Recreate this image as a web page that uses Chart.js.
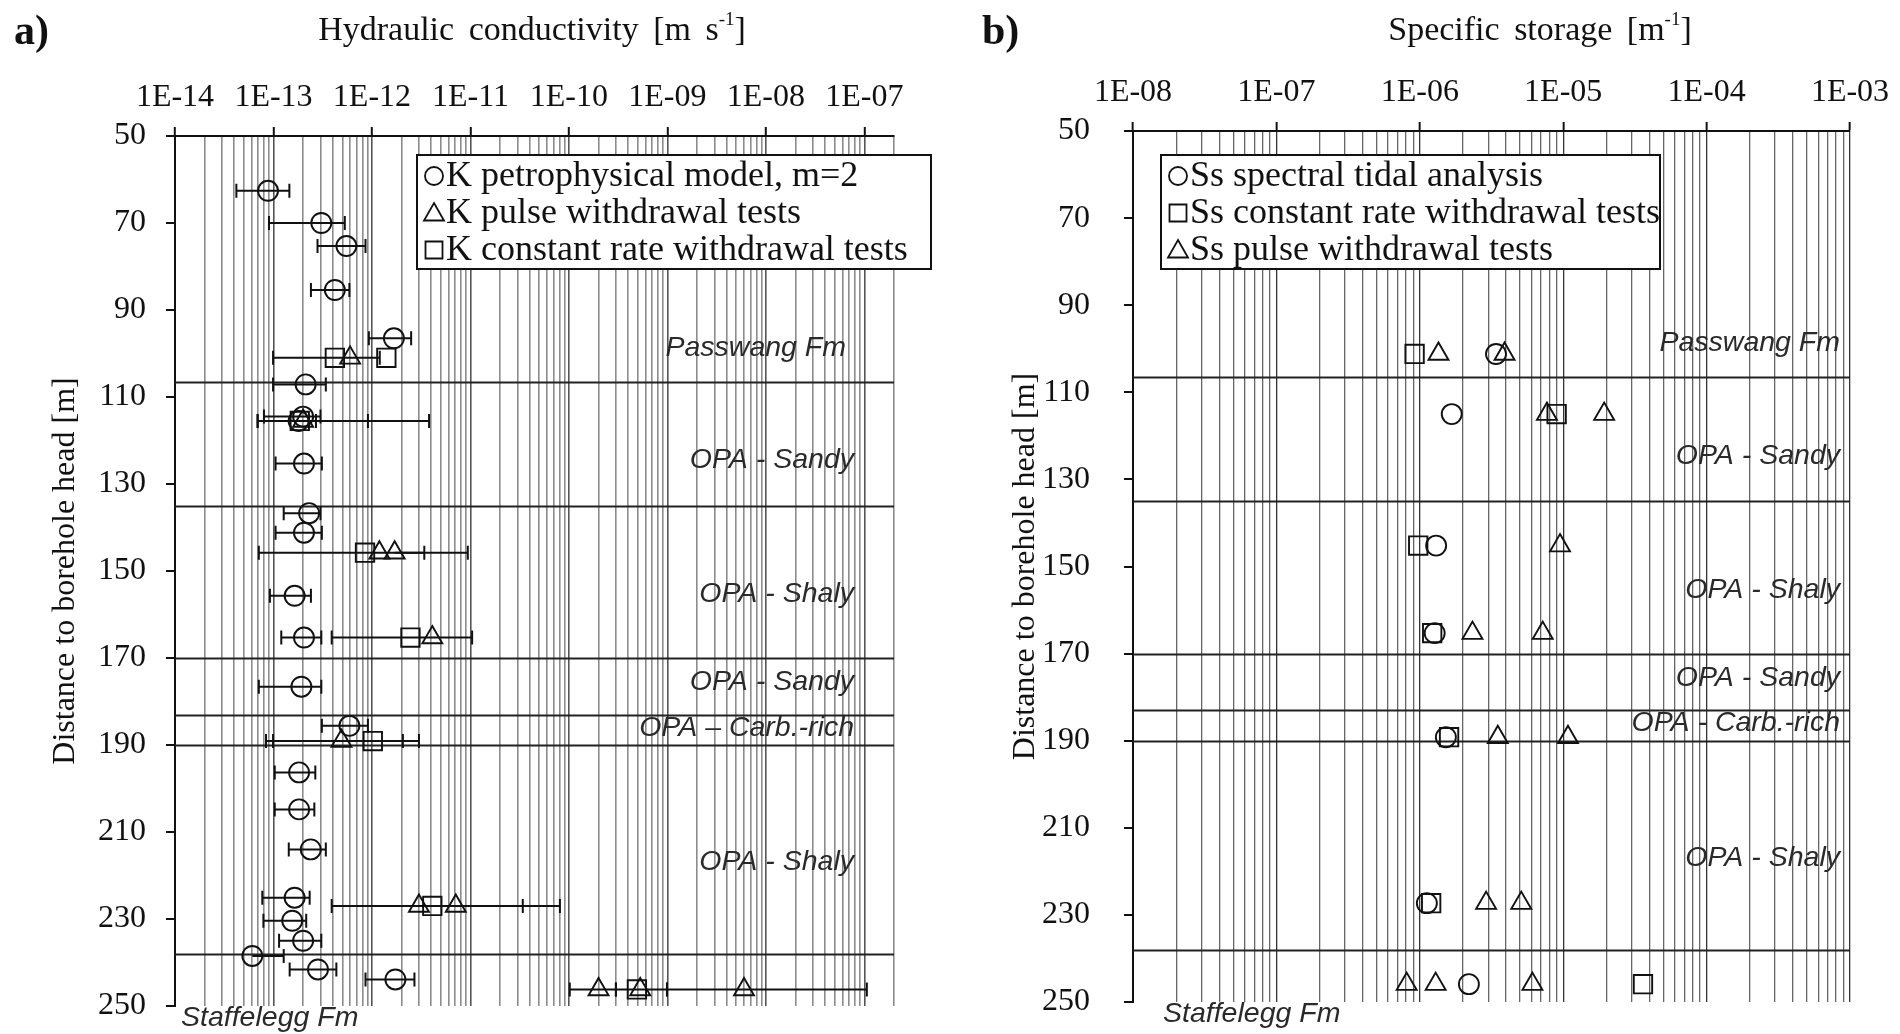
<!DOCTYPE html>
<html>
<head>
<meta charset="utf-8">
<script src="https://cdn.jsdelivr.net/npm/chart.js@4.4.1/dist/chart.umd.min.js"></script>
<style>
  body { margin: 0; background: #fff; width: 1900px; height: 1034px; overflow: hidden; position: relative; }
  .panel { position: absolute; top: 0; width: 950px; height: 1034px; }
  #panelA { left: 0; }
  #panelB { left: 950px; }
  canvas { display: block; }
  .txt { position: absolute; font-family: "Liberation Serif", serif; color: #111; white-space: nowrap; }
  .letter { font-weight: bold; font-size: 42px; top: 6px; }
  .title { font-size: 34px; top: 10px; transform: translateX(-50%); word-spacing: 6px; }
  sup { font-size: 19px; vertical-align: 15px; line-height: 0; }
</style>
</head>
<body>
<div class="panel" id="panelA"><canvas id="chartA" width="950" height="1034"></canvas></div>
<div class="panel" id="panelB"><canvas id="chartB" width="950" height="1034"></canvas></div>
<div class="txt letter" style="left:14px">a)</div>
<div class="txt title" style="left:532px">Hydraulic conductivity [m s<sup>-1</sup>]</div>
<div class="txt letter" style="left:982px">b)</div>
<div class="txt title" style="left:1540px">Specific storage [m<sup>-1</sup>]</div>
<script>
// ---------- axes ----------
const depthTicks = [50, 70, 90, 110, 130, 150, 170, 190, 210, 230, 250];
const kDecades = [1e-14, 1e-13, 1e-12, 1e-11, 1e-10, 1e-9, 1e-8, 1e-7];
const kDecadeLabels = ["1E-14", "1E-13", "1E-12", "1E-11", "1E-10", "1E-09", "1E-08", "1E-07"];
const ssDecades = [1e-8, 1e-7, 1e-6, 1e-5, 1e-4, 1e-3];
const ssDecadeLabels = ["1E-08", "1E-07", "1E-06", "1E-05", "1E-04", "1E-03"];

// ---------- formations ----------
const boundaryDepths = [106.5, 135, 170, 183, 190, 238];
const formationNames = ["Passwang Fm", "OPA - Sandy", "OPA - Shaly", "OPA - Sandy", "OPA \u2013 Carb.-rich", "OPA - Shaly"];
const formationNamesB = ["Passwang Fm", "OPA - Sandy", "OPA - Shaly", "OPA - Sandy", "OPA - Carb.-rich", "OPA - Shaly"];
const formationDepths = [98.7, 124.6, 155.3, 175.6, 186, 216.9];
const baseFormation = "Staffelegg Fm";

// ---------- a) hydraulic conductivity ----------
const kPetroDepth = [62.6, 70, 75.3, 85.4, 96.5, 107.1, 114.5, 115.5, 125.3, 136.7, 141.2, 155.7, 165.3, 176.6, 185.6, 196.3, 204.8, 214, 225.1, 230.4, 235, 238.5, 241.6, 243.9];
const kPetroValue = [8.8e-14, 3.06e-13, 5.5e-13, 4.2e-13, 1.67e-12, 2.12e-13, 2.0e-13, 1.8e-13, 2.04e-13, 2.3e-13, 2.04e-13, 1.64e-13, 2.04e-13, 1.92e-13, 5.9e-13, 1.82e-13, 1.82e-13, 2.39e-13, 1.64e-13, 1.55e-13, 2.0e-13, 6.1e-14, 2.83e-13, 1.73e-12];
const kPetroMin = [4.2e-14, 9.0e-14, 2.8e-13, 2.4e-13, 9.3e-13, 9.9e-14, 8.0e-14, 6.9e-14, 1.05e-13, 1.27e-13, 1.05e-13, 9.2e-14, 1.2e-13, 7.1e-14, 3.1e-13, 1.03e-13, 1.03e-13, 1.43e-13, 7.7e-14, 7.9e-14, 1.14e-13, 6.1e-14, 1.46e-13, 8.6e-13];
const kPetroMax = [1.45e-13, 5.3e-13, 8.6e-13, 5.9e-13, 2.5e-12, 3.4e-13, 3.0e-13, 2.7e-13, 3.1e-13, 3.0e-13, 3.1e-13, 2.4e-13, 3.06e-13, 3.06e-13, 9.1e-13, 2.66e-13, 2.6e-13, 3.4e-13, 2.33e-13, 2.15e-13, 3.06e-13, 1.27e-13, 4.35e-13, 2.7e-12];

const kPulseDepth = [101, 115.5, 145.8, 145.8, 165.3, 189.1, 227, 227, 246.2, 246.2, 246.2];
const kPulseValue = [6.0e-13, 2.0e-13, 1.19e-12, 1.7e-12, 4.1e-12, 4.9e-13, 3.0e-12, 7.1e-12, 2.0e-10, 5.3e-10, 6.0e-9];
const kPulseMin = [9.9e-14, 6.9e-14, 7.1e-14, 1.7e-12, 3.9e-13, 8.4e-14, 3.9e-13, 7.1e-12, 1.02e-10, 5.3e-10, 9.9e-10];
const kPulseMax = [1.2e-12, 3.8e-12, 3.4e-12, 9.4e-12, 1.04e-11, 3.0e-12, 3.4e-11, 8.1e-11, 3.0e-10, 5.3e-10, 1.06e-7];

const kConstDepth = [101, 101, 115.5, 145.8, 165.3, 189.1, 227, 246.2];
const kConstValue = [4.2e-13, 1.4e-12, 1.85e-13, 8.5e-13, 2.46e-12, 1.02e-12, 4.1e-12, 4.9e-10];
const kConstMin = [4.2e-13, 1.4e-12, 1.85e-13, 8.5e-13, 2.46e-12, 9.9e-14, 4.1e-12, 3.0e-10];
const kConstMax = [4.2e-13, 1.4e-12, 9.1e-13, 8.5e-13, 2.46e-12, 2.06e-12, 4.1e-12, 9.9e-10];

// ---------- b) specific storage ----------
const ssTidalDepth = [101.2, 115, 145.2, 165.3, 189.2, 227.3, 245.9];
const ssTidalValue = [3.4e-6, 1.67e-6, 1.3e-6, 1.27e-6, 1.52e-6, 1.12e-6, 2.2e-6];
const ssConstDepth = [101.2, 115, 145.2, 165.3, 189.2, 227.3, 245.9];
const ssConstValue = [9.2e-7, 9.0e-6, 9.75e-7, 1.22e-6, 1.6e-6, 1.2e-6, 3.6e-5];
const ssPulseDepth = [101.2, 101.2, 115, 115, 145.2, 165.3, 165.3, 189.2, 189.2, 227.3, 227.3, 245.9, 245.9, 245.9];
const ssPulseValue = [1.35e-6, 3.9e-6, 7.7e-6, 1.93e-5, 9.5e-6, 2.33e-6, 7.2e-6, 3.5e-6, 1.08e-5, 2.9e-6, 5.1e-6, 8.1e-7, 1.29e-6, 6.1e-6];

// ---------- helpers ----------
const SERIF = '"Liberation Serif", "Times New Roman", serif';
const SANS = '"Liberation Sans", Arial, sans-serif';

const toPoints = (depths, values, mins, maxs) => depths.map((d, i) => ({
  x: values[i], y: d,
  xMin: mins ? mins[i] : values[i],
  xMax: maxs ? maxs[i] : values[i]
}));

// gridlines at 1..9 x each decade, up to the axis max
const logGrid = (decades, max) => {
  const out = [];
  decades.forEach(d => {
    for (let m = 1; m <= 9; m++) {
      const v = Number((m * d).toPrecision(3));
      if (v <= max * 1.0001) out.push(v);
    }
  });
  if (!out.some(v => Math.abs(v - max) / max < 1e-6)) out.push(max);
  return out;
};
const isDecade = v => Math.abs(Math.log10(v) - Math.round(Math.log10(v))) < 1e-6;
const decadeLabel = (v, decades, labels) => {
  const i = decades.findIndex(d => Math.abs(Math.log10(d) - Math.log10(v)) < 1e-6);
  return i >= 0 ? labels[i] : "";
};

// ---------- plugins ----------
const errorBars = {
  id: "errorBars",
  beforeDatasetsDraw(chart) {
    const { ctx, scales: { x, y } } = chart;
    ctx.save();
    ctx.strokeStyle = "#111";
    ctx.lineWidth = 2;
    chart.data.datasets.forEach(ds => {
      ds.data.forEach(p => {
        if (p.xMin === p.xMax) return;
        const yp = y.getPixelForValue(p.y);
        const x0 = x.getPixelForValue(p.xMin);
        const x1 = x.getPixelForValue(p.xMax);
        ctx.beginPath();
        ctx.moveTo(x0, yp);
        ctx.lineTo(x1, yp);
        if (p.xMin < p.x) { ctx.moveTo(x0, yp - 7); ctx.lineTo(x0, yp + 7); }
        if (p.xMax > p.x) { ctx.moveTo(x1, yp - 7); ctx.lineTo(x1, yp + 7); }
        ctx.stroke();
      });
    });
    ctx.restore();
  }
};

const formations = {
  id: "formations",
  beforeDatasetsDraw(chart) {
    const { ctx, chartArea, scales: { y } } = chart;
    ctx.save();
    ctx.strokeStyle = "#222";
    ctx.lineWidth = 2;
    boundaryDepths.forEach(d => {
      const yp = Math.round(y.getPixelForValue(d)) + 0.5;
      ctx.beginPath();
      ctx.moveTo(chartArea.left, yp);
      ctx.lineTo(chartArea.right, yp);
      ctx.stroke();
    });
    ctx.restore();
  },
  afterDatasetsDraw(chart, args, opts) {
    const { ctx, chartArea, scales: { y } } = chart;
    ctx.save();
    ctx.fillStyle = "#2a2a2a";
    ctx.font = "italic 28.5px " + SANS;
    ctx.textAlign = "right";
    ctx.textBaseline = "middle";
    opts.names.forEach((n, i) => {
      const gap = i === 0 ? opts.rightGap + opts.firstExtra : opts.rightGap;
      ctx.fillText(n, chartArea.right - gap, y.getPixelForValue(formationDepths[i]));
    });
    ctx.textAlign = "left";
    ctx.fillText(baseFormation, chartArea.left + opts.baseGap, chartArea.bottom + 12);
    ctx.restore();
  }
};

const drawMarker = (ctx, style, x, y, r) => {
  ctx.beginPath();
  if (style === "circle") {
    ctx.arc(x, y, r * 0.9, 0, Math.PI * 2);
  } else if (style === "rect") {
    ctx.rect(x - r * 0.85, y - r * 0.85, r * 1.7, r * 1.7);
  } else {
    ctx.moveTo(x, y - r);
    ctx.lineTo(x + r, y + r * 0.75);
    ctx.lineTo(x - r, y + r * 0.75);
    ctx.closePath();
  }
  ctx.stroke();
};

const boxLegend = {
  id: "boxLegend",
  afterDraw(chart, args, opts) {
    const { ctx } = chart;
    const { left, top, width, height, rowGap } = opts;
    ctx.save();
    ctx.fillStyle = "#fff";
    ctx.fillRect(left, top, width, height);
    ctx.strokeStyle = "#111";
    ctx.lineWidth = 2;
    ctx.strokeRect(left, top, width, height);
    ctx.font = "36px " + SERIF;
    ctx.textBaseline = "middle";
    ctx.fillStyle = "#111";
    chart.data.datasets.forEach((ds, row) => {
      const yy = top + 21 + row * rowGap;
      ctx.lineWidth = 1.8;
      drawMarker(ctx, ds.pointStyle, left + 17, yy, 10);
      ctx.fillText(ds.label, left + 29, yy + 1);
    });
    ctx.restore();
  }
};

const markerDataset = (label, style, data, radius) => ({
  label, data,
  pointStyle: style,
  pointRadius: radius,
  pointBorderWidth: 1.9,
  pointBorderColor: "#111",
  pointBackgroundColor: "rgba(0,0,0,0)",
  showLine: false
});

const makeOptions = cfg => ({
  responsive: false,
  animation: false,
  devicePixelRatio: 1,
  events: [],
  layout: { padding: cfg.padding },
  plugins: {
    legend: { display: false },
    tooltip: { enabled: false },
    formations: cfg.formations,
    boxLegend: cfg.legend
  },
  scales: {
    x: {
      type: "logarithmic",
      position: "top",
      min: cfg.min,
      max: cfg.max,
      afterBuildTicks: s => { s.ticks = logGrid(cfg.decades, cfg.max).map(v => ({ value: v })); },
      afterFit: s => { s.height = cfg.xHeight; s.paddingLeft = 0; s.paddingRight = 0; },
      ticks: {
        autoSkip: false, maxRotation: 0, padding: 10,
        color: "#111",
        font: { family: SERIF, size: 32 },
        callback: v => decadeLabel(v, cfg.decades, cfg.labels)
      },
      grid: {
        color: c => c.tick && isDecade(c.tick.value) ? cfg.majorColor : cfg.minorColor,
        lineWidth: cfg.gridWidth,
        tickLength: 9,
        tickColor: c => c.tick && isDecade(c.tick.value) ? "#111" : "rgba(0,0,0,0)",
        tickWidth: 2
      },
      border: { display: true, color: "#111", width: 2 }
    },
    y: {
      type: "linear",
      reverse: true,
      min: 50,
      max: 250,
      afterBuildTicks: s => { s.ticks = depthTicks.map(v => ({ value: v })); },
      afterFit: s => { s.width = cfg.yWidth; s.paddingTop = 0; s.paddingBottom = 0; },
      ticks: { padding: cfg.yPad, color: "#111", font: { family: SERIF, size: 32 } },
      grid: { drawOnChartArea: false, tickLength: 9, color: "#111", lineWidth: 2 },
      border: { display: true, color: "#111", width: 2 },
      title: {
        display: true,
        text: "Distance to borehole head [m]",
        color: "#111",
        font: { family: SERIF, size: 32 },
        padding: { top: 2, bottom: 2 }
      }
    }
  }
});

// ---------- chart a ----------
new Chart(document.getElementById("chartA"), {
  type: "scatter",
  data: {
    datasets: [
      markerDataset("K petrophysical model, m=2", "circle", toPoints(kPetroDepth, kPetroValue, kPetroMin, kPetroMax), 10),
      markerDataset("K pulse withdrawal tests", "triangle", toPoints(kPulseDepth, kPulseValue, kPulseMin, kPulseMax), 11.5),
      markerDataset("K constant rate withdrawal tests", "rect", toPoints(kConstDepth, kConstValue, kConstMin, kConstMax), 13)
    ]
  },
  options: makeOptions({
    padding: { left: 44, top: 10, right: 56, bottom: 28 },
    min: 1e-14, max: 2e-7,
    decades: kDecades, labels: kDecadeLabels,
    xHeight: 126, yWidth: 131, yPad: 20,
    majorColor: "#555", minorColor: "#8c8c8c", gridWidth: 1.6,
    formations: { names: formationNames, rightGap: 40, firstExtra: 8, baseGap: 6 },
    legend: { left: 417, top: 155, width: 514, height: 114, rowGap: 37 }
  }),
  plugins: [formations, errorBars, boxLegend]
});

// ---------- chart b ----------
new Chart(document.getElementById("chartB"), {
  type: "scatter",
  data: {
    datasets: [
      markerDataset("Ss spectral tidal analysis", "circle", toPoints(ssTidalDepth, ssTidalValue), 10),
      markerDataset("Ss constant rate withdrawal tests", "rect", toPoints(ssConstDepth, ssConstValue), 13),
      markerDataset("Ss pulse withdrawal tests", "triangle", toPoints(ssPulseDepth, ssPulseValue), 11.5)
    ]
  },
  options: makeOptions({
    padding: { left: 54, top: 8, right: 50, bottom: 32 },
    min: 1e-8, max: 1e-3,
    decades: ssDecades, labels: ssDecadeLabels,
    xHeight: 123, yWidth: 129, yPad: 34,
    majorColor: "#333", minorColor: "#666", gridWidth: 1.3,
    formations: { names: formationNamesB, rightGap: 10, firstExtra: 0, baseGap: 30 },
    legend: { left: 211, top: 155, width: 499, height: 114, rowGap: 37 }
  }),
  plugins: [formations, errorBars, boxLegend]
});
</script>
</body>
</html>
